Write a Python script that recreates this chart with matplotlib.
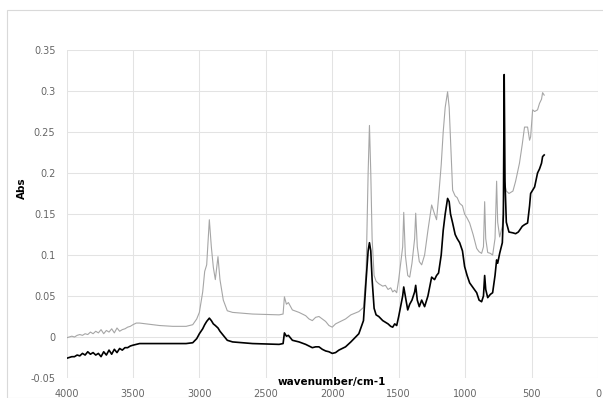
import matplotlib
matplotlib.use("Agg")
import matplotlib.pyplot as plt
from matplotlib.patches import Rectangle

wavenumber = [4000, 3980, 3960, 3940, 3920, 3900, 3880, 3860, 3840, 3820, 3800, 3780, 3760, 3740,
              3720, 3700, 3680, 3660, 3640, 3620, 3600, 3580, 3560, 3540, 3520, 3500, 3475, 3450,
              3400, 3300, 3200, 3100, 3050,
              3020, 3000, 2975, 2960, 2945, 2925, 2910, 2895, 2880, 2860, 2845, 2820, 2790, 2750,
              2600, 2400, 2370, 2360, 2345, 2330, 2300, 2250, 2200, 2175, 2150, 2125, 2100, 2075,
              2050, 2025, 2000, 1975, 1950, 1900, 1860, 1800, 1765, 1745, 1730, 1720, 1710, 1700,
              1685, 1670, 1650, 1620, 1600, 1580, 1560, 1545, 1530, 1515, 1500, 1470, 1462, 1450,
              1432, 1417, 1400, 1380, 1372, 1360, 1345, 1327, 1305, 1280, 1252, 1230, 1215, 1200,
              1180, 1165, 1150, 1132, 1120, 1110, 1094, 1075, 1060, 1041, 1020, 1004, 985, 966,
              940, 913, 895, 876, 862, 853, 845, 830, 810, 793, 775, 763, 755, 740, 720, 712,
              706, 700, 690, 670, 640, 620, 600, 591, 570, 553, 530, 515, 507, 492, 477, 455,
              440, 425, 417, 405]

abs_gray = [-0.001, 0.000, 0.001, 0.000, 0.002, 0.003, 0.002, 0.004, 0.003, 0.006, 0.004, 0.007, 0.005, 0.009,
            0.004, 0.008, 0.006, 0.010, 0.005, 0.011, 0.007, 0.009, 0.010, 0.012, 0.013, 0.015, 0.017, 0.017,
            0.016, 0.014, 0.013, 0.013, 0.015,
            0.022, 0.030, 0.055, 0.080, 0.088, 0.143, 0.110, 0.085, 0.070, 0.098, 0.070, 0.045, 0.032, 0.030,
            0.028, 0.027, 0.028, 0.049, 0.040, 0.042, 0.033, 0.030, 0.026, 0.022, 0.020, 0.024, 0.025, 0.022,
            0.019, 0.014, 0.012, 0.016, 0.018, 0.022, 0.027, 0.031, 0.036, 0.080, 0.200, 0.258, 0.200, 0.120,
            0.075, 0.068, 0.065, 0.062, 0.063, 0.058, 0.060, 0.055, 0.057, 0.054, 0.070, 0.110, 0.152, 0.100,
            0.075, 0.073, 0.090, 0.120, 0.151, 0.110, 0.092, 0.088, 0.100, 0.130, 0.161, 0.150, 0.143, 0.170,
            0.210, 0.250, 0.280, 0.299, 0.280, 0.240, 0.179, 0.172, 0.170, 0.163, 0.160, 0.150, 0.145, 0.139,
            0.125, 0.108, 0.104, 0.102, 0.110, 0.165, 0.120, 0.103, 0.102, 0.100, 0.120, 0.190, 0.140, 0.122, 0.135, 0.160,
            0.200, 0.185, 0.178, 0.175, 0.178, 0.190, 0.205, 0.212, 0.235, 0.256, 0.256, 0.240, 0.244, 0.277, 0.275, 0.277,
            0.285, 0.290, 0.298, 0.295]

abs_black = [-0.026, -0.025, -0.024, -0.024, -0.022, -0.023, -0.020, -0.022, -0.018, -0.021, -0.019, -0.022, -0.020, -0.024,
             -0.018, -0.022, -0.016, -0.021, -0.015, -0.019, -0.014, -0.016, -0.013, -0.013, -0.011, -0.010, -0.009, -0.008,
             -0.008, -0.008, -0.008, -0.008, -0.007,
             -0.002, 0.004, 0.010, 0.015, 0.019, 0.023, 0.020, 0.016, 0.014, 0.011, 0.007, 0.002, -0.004, -0.006,
             -0.008, -0.009, -0.008, 0.005, 0.001, 0.002, -0.004, -0.006, -0.009, -0.011, -0.013, -0.012, -0.012, -0.015,
             -0.017, -0.018, -0.020, -0.019, -0.016, -0.012, -0.006, 0.004, 0.020, 0.070, 0.105, 0.115, 0.105, 0.070,
             0.035, 0.027, 0.025, 0.020, 0.018, 0.016, 0.013, 0.012, 0.016, 0.014, 0.025, 0.050, 0.061, 0.050,
             0.033, 0.040, 0.045, 0.055, 0.063, 0.045, 0.037, 0.045, 0.037, 0.050, 0.073, 0.070, 0.075, 0.078,
             0.100, 0.130, 0.150, 0.169, 0.165, 0.150, 0.139, 0.125, 0.120, 0.115, 0.105, 0.086, 0.075, 0.066,
             0.060, 0.054, 0.045, 0.043, 0.050, 0.075, 0.058, 0.048, 0.052, 0.054, 0.075, 0.094, 0.090, 0.102, 0.115, 0.150,
             0.320, 0.190, 0.140, 0.128, 0.127, 0.126, 0.128, 0.130, 0.135, 0.137, 0.139, 0.160, 0.175, 0.179, 0.183, 0.200,
             0.205, 0.212, 0.220, 0.222]

x_ticks = [4000, 3500, 3000, 2500, 2000, 1500, 1000, 500, 0]
y_ticks = [-0.05, 0, 0.05, 0.1, 0.15, 0.2, 0.25, 0.3, 0.35]
y_tick_labels = ["-0.05", "0", "0.05", "0.1", "0.15", "0.2", "0.25", "0.3", "0.35"]

W, H = 603, 398
fig = plt.figure(figsize=(W / 100, H / 100), dpi=100)
fig.patch.set_facecolor("white")
fig.add_artist(Rectangle((7 / W, 0), 1.0, 1 - 10 / H, transform=fig.transFigure,
                         fill=False, edgecolor="#d9d9d9", linewidth=0.8))

ax = fig.add_axes([66.5 / W, 20 / H, 531.5 / W, 328 / H])
ax.plot(wavenumber, abs_gray, color="#a6a6a6", linewidth=0.8)
ax.plot(wavenumber, abs_black, color="black", linewidth=1.2)

ax.set_xlim(4000, 0)
ax.set_ylim(-0.05, 0.35)
ax.set_xticks(x_ticks)
ax.set_xticklabels([str(t) for t in x_ticks])
ax.set_yticks(y_ticks)
ax.set_yticklabels(y_tick_labels)
ax.tick_params(axis="both", length=0, labelsize=7, labelcolor="#666666")
ax.tick_params(axis="x", pad=8)
ax.tick_params(axis="y", pad=8)
ax.grid(True, color="#e3e3e3", linewidth=0.75)
ax.set_axisbelow(True)
for s in ax.spines.values():
    s.set_visible(False)

fig.text(332 / W, 1 - 382 / H, "wavenumber/cm-1", ha="center", va="center",
         fontsize=7.5, fontweight="bold", color="black")
fig.text(22 / W, 1 - 188 / H, "Abs", ha="center", va="center", rotation=90,
         fontsize=7.5, fontweight="bold", color="black")

fig.savefig("out.png", dpi=100)
